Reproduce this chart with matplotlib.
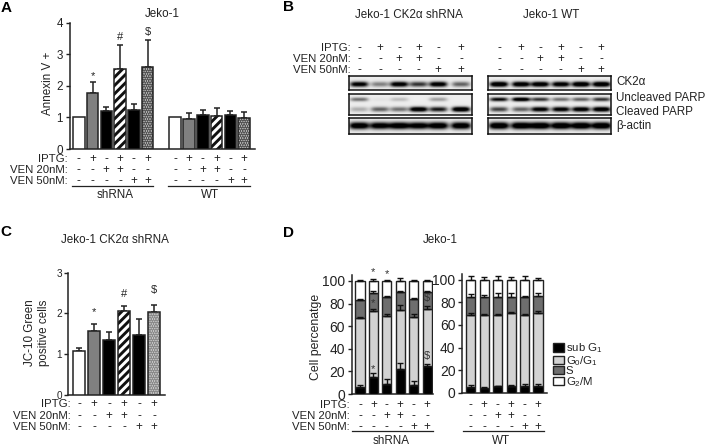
import numpy as np
import matplotlib
matplotlib.use("Agg")
import matplotlib.pyplot as plt
from matplotlib.transforms import blended_transform_factory as blend

plt.rcParams['font.family'] = ['Liberation Sans', 'DejaVu Sans']
plt.rcParams['mathtext.default'] = 'regular'
plt.rcParams['hatch.linewidth'] = 2.1
W, H = 708, 446
TXT = '#222222'

iptg = ['-', '+', '-', '+', '-', '+']
ven20 = ['-', '-', '+', '+', '-', '-']
ven50 = ['-', '-', '-', '-', '+', '+']
row_names = ['IPTG:', 'VEN 20nM:', 'VEN 50nM:']

a_sh = [1, 1.78, 1.2, 2.52, 1.22, 2.6]
a_sh_top = [1, 2.12, 1.32, 3.3, 1.42, 3.46]
a_wt = [1, 0.96, 1.07, 1.03, 1.08, 0.97]
a_wt_top = [1, 1.13, 1.24, 1.29, 1.19, 1.17]

c_val = [1.07, 1.57, 1.35, 2.05, 1.46, 2.04]
c_top = [1.14, 1.73, 1.54, 2.17, 1.86, 2.21]

d_sh_sub = [6.5, 15, 9, 22.5, 8, 24.5]
d_sh_g0 = [67, 73.5, 69, 74.5, 68, 75.5]
d_sh_s = [83, 89.5, 85.5, 90, 84.5, 90.5]
d_sh_g2 = [100, 100, 100, 100, 100, 100]
d_sh_err = [[1.5, 3.5, 4.5, 5, 3.5, 2], [1, 1.5, 2, 4, 2.5, 2],
            [1.5, 1.5, 1.5, 1, 0.5, 1], [0.8, 2, 0.8, 2.5, 0.6, 0.5]]
d_wt_sub = [5, 4.5, 5.5, 6, 6, 6]
d_wt_g0 = [68.5, 68.5, 68.5, 70.5, 68.5, 70.5]
d_wt_s = [85, 84.5, 85, 85, 84.5, 86]
d_wt_g2 = [100, 100, 100, 100, 100, 100]
d_wt_err = [[1.5, 0.5, 0.8, 1, 1.5, 1.5], [2, 1, 1.5, 1, 1.5, 2],
            [2, 2, 3, 3, 1.5, 2], [3.5, 2, 3.5, 2, 3.5, 1.5]]
phase_labels = ['sub G$_1$', 'G$_0$/G$_1$', 'S', 'G$_2$/M']
phase_colors = ['black', '#d2d2d2', '#6e6e6e', 'white']

blot_left = {
    'CK2': [.85, .35, .9, .6, .9, .45],
    'unc': [.4, .03, .15, 0, .25, 0],
    'cle': [.2, .45, .4, .95, .7, 1],
    'act': [.95, .9, .95, .9, .95, .95],
}
blot_right = {
    'CK2': [1, .95, .95, .9, 1, 1],
    'unc': [.75, .95, .6, .4, .45, .6],
    'cle': [.55, .45, .85, .85, .9, .95],
    'act': [1, 1, 1, 1, 1, 1],
}

fig = plt.figure(figsize=(W / 100, H / 100), dpi=100)
ov = fig.add_axes([0, 0, 1, 1], zorder=5)
ov.set_xlim(0, W); ov.set_ylim(H, 0); ov.axis('off'); ov.patch.set_alpha(0)


def T(x, y, s, size=8.4, ha='center', va='center', **kw):
    kw.setdefault('color', TXT)
    ov.text(x, y, s, fontsize=size, ha=ha, va=va, **kw)


def ax_px(l, t, r, b):
    return fig.add_axes([l / W, 1 - b / H, (r - l) / W, (b - t) / H])


def style(ax, ticks, size):
    for s in ('top', 'right'):
        ax.spines[s].set_visible(False)
    for s in ('left', 'bottom'):
        ax.spines[s].set_linewidth(1.1)
        ax.spines[s].set_color('#222222')
    ax.set_yticks(ticks)
    ax.set_xticks([])
    ax.tick_params(axis='y', length=3.2, width=1, pad=1.5, labelsize=size, colors=TXT)
    ax.patch.set_alpha(0)


def signs(ax, xs, ys, size=8.4):
    tr = blend(ax.transData, ov.transData)
    for col, y in zip([iptg, ven20, ven50], ys):
        for x, c in zip(xs, col):
            ov.text(x, y, c, transform=tr, fontsize=size, ha='center', va='center', color=TXT)


def simple_bars(ax, xs, vals, tops, dot_color='#555555', dot_face='#c4c4c4'):
    styles = [('white', None), ('#808080', None), ('black', None),
              ('white', '////'), ('black', None), (dot_face, '.......')]
    for x, v, t, (fc, h) in zip(xs, vals, tops, styles):
        hatch_col = dot_color if h == '.......' else '#111111'
        ax.bar(x, v, 0.84, color=fc, edgecolor=hatch_col, linewidth=0, hatch=h, zorder=3)
        ax.bar(x, v, 0.84, fill=False, edgecolor='#222222', linewidth=1.1, zorder=3.1)
        if t > v:
            ax.errorbar(x, v, yerr=[[0], [t - v]], color='#222222', capsize=2.4,
                        elinewidth=1.1, capthick=1.1, zorder=2)


# ---------- Panel A
axA = ax_px(69.5, 22.7, 255, 149)
axA.set_xlim(-0.67, 12.78); axA.set_ylim(0, 4)
style(axA, [0, 1, 2, 3, 4], 8.4)
xsA1 = np.arange(6); xsA2 = np.arange(6) + 7
simple_bars(axA, xsA1, a_sh, a_sh_top)
simple_bars(axA, xsA2, a_wt, a_wt_top)
signs(axA, xsA1, [159, 170, 181]); signs(axA, xsA2, [159, 170, 181])
for n, y in zip(row_names, [159, 170, 181]):
    T(68, y, n, ha='right', size=8.2)
ov.plot([71.7, 153], [185.7, 185.7], color='#222222', lw=0.9)
ov.plot([168, 250], [185.7, 185.7], color='#222222', lw=0.9)
T(115, 194.5, 'shRNA'); T(210, 194.5, 'WT')
T(48, 83, 'Annexin V +', rotation=90)
T(162, 14, 'Jeko-1')
for i, s, y in [(1, '*', 76), (3, '#', 37), (5, '$', 32)]:
    ov.text(i, y, s, transform=blend(axA.transData, ov.transData), fontsize=8,
            ha='center', va='center', color=TXT)
T(6.5, 8, 'A', size=11, weight='bold', color='black')

# ---------- Panel B
def blot(l, r, t, b, rows, centers, band_w):
    ax = ax_px(l, t, r, b)
    x = np.arange(l, r, 0.5); y = np.arange(t, b, 0.5)
    X, Y = np.meshgrid(x, y)
    img = np.full(X.shape, 0.0)
    for vals, yc, hh in rows:
        for v, c in zip(vals, centers):
            img += 1.35 * v * np.exp(-((X - c) / band_w) ** 4) * np.exp(-((Y - yc) / hh) ** 2)
    img = 0.93 - 0.93 * np.clip(img, 0, 1)
    ax.imshow(img, cmap='gray', vmin=0, vmax=1, aspect='auto', extent=(l, r, b, t),
              interpolation='bilinear')
    ax.set_xticks([]); ax.set_yticks([])
    for s in ax.spines.values():
        s.set_linewidth(1.1); s.set_color('#111111')


colL = [260 + v / 3 for v in (298, 360, 418, 476, 535, 603)]
colR = [260 + v / 3 for v in (717, 783, 840, 902, 962, 1023)]
for cols, d in ((colL, blot_left), (colR, blot_right)):
    l, r = (349.3, 472.3) if cols is colL else (488.3, 610.7)
    blot(l, r, 75.7, 90.3, [(d['CK2'], 84.7, 2.6)], cols, 9)
    blot(l, r, 94.3, 114.7, [(d['unc'], 99.3, 1.9), (d['cle'], 109, 2.4)], cols, 9)
    blot(l, r, 118.3, 133.7, [(d['act'], 125.5, 3.4)], cols, 10)
    for col, y in zip([iptg, ven20, ven50], [48.3, 59.3, 70]):
        for x, c in zip(cols, col):
            T(x, y, c)
for n, y in zip(row_names, [48.3, 59.3, 70]):
    T(350.7, y, n, ha='right', size=8.2)
T(409, 14.7, 'Jeko-1 CK2α shRNA')
T(551.3, 14.7, 'Jeko-1 WT')
for s, y in [('CK2α', 81.7), ('Uncleaved PARP', 97.7), ('Cleaved PARP', 111.7), ('β-actin', 125.7)]:
    T(616, y, s, ha='left')
T(288, 7, 'B', size=11, weight='bold', color='black')

# ---------- Panel C
axC = ax_px(68.3, 272.7, 165, 394.7)
axC.set_xlim(-0.71, 5.73); axC.set_ylim(0, 3)
style(axC, [0, 1, 2, 3], 7.2)
xsC = np.arange(6)
simple_bars(axC, xsC, c_val, c_top, dot_color='#8a8a8a', dot_face='#d0d0d0')
signs(axC, xsC, [404.3, 415.7, 427])
for n, y in zip(row_names, [404.3, 415.7, 427]):
    T(71, y, n, ha='right', size=8.2)
T(30, 333, 'JC-10 Green', rotation=90)
T(43.5, 333, 'positive cells', rotation=90)
T(115, 240, 'Jeko-1 CK2α shRNA')
for i, s, y in [(1, '*', 312), (3, '#', 294), (5, '$', 290.5)]:
    ov.text(i, y, s, transform=blend(axC.transData, ov.transData), fontsize=8,
            ha='center', va='center', color=TXT)
T(6, 232.5, 'C', size=11, weight='bold', color='black')


# ---------- Panel D
def stack(ax, xs, sub, g0, s, g2, err):
    tops = [sub, g0, s, g2]
    handles = []
    bottom = np.zeros(6)
    for k, (top, col) in enumerate(zip(tops, phase_colors)):
        top = np.array(top, float)
        h = ax.bar(xs, top - bottom, 0.68, bottom=bottom, color=col,
                   edgecolor='#222222', linewidth=1.0, zorder=3)
        ax.errorbar(xs, top, yerr=[np.zeros(6), err[k]], fmt='none', ecolor='#111111',
                    capsize=1.9, elinewidth=1.0, capthick=1.0, zorder=4)
        handles.append(h)
        bottom = top
    return handles


axD1 = ax_px(351.7, 275, 432.7, 394)
axD1.set_xlim(-0.62, 5.42); axD1.set_ylim(0, 105.3)
style(axD1, [0, 20, 40, 60, 80, 100], 10)
xsD = np.arange(6)
stack(axD1, xsD, d_sh_sub, d_sh_g0, d_sh_s, d_sh_g2, d_sh_err)
signs(axD1, xsD, [405, 415.7, 426.7])
for n, y in zip(row_names, [405, 415.7, 426.7]):
    T(350, y, n, ha='right', size=8.2)

axD2 = ax_px(462, 273.5, 546.7, 392.7)
axD2.set_xlim(-0.65, 5.65); axD2.set_ylim(0, 105.5)
style(axD2, [0, 20, 40, 60, 80, 100], 10)
hs = stack(axD2, xsD, d_wt_sub, d_wt_g0, d_wt_s, d_wt_g2, d_wt_err)
signs(axD2, xsD, [405, 415.7, 426.7])
ov.plot([352, 433], [431.3, 431.3], color='#222222', lw=0.9)
ov.plot([462.5, 544], [431.3, 431.3], color='#222222', lw=0.9)
T(391.5, 440.7, 'shRNA'); T(501.5, 440.7, 'WT')
T(315.7, 336.7, 'Cell percenatge', rotation=90, size=8.8)
T(440.7, 240, 'Jeko-1')
tr1 = blend(axD1.transData, ov.transData)
for i, s, y in [(1, '*', 272), (2, '*', 274), (1, '*', 303), (1, '*', 369),
                (5, '$', 298), (5, '$', 356)]:
    ov.text(i, y, s, transform=tr1, fontsize=8, ha='center', va='center', color='#333333')
fig.legend(hs, phase_labels, loc='upper left', bbox_to_anchor=(552.5 / W, 1 - 341.5 / H),
           frameon=False, fontsize=8.2, handlelength=1.02, handleheight=0.72, handletextpad=0.15,
           labelspacing=-0.12, borderpad=0, borderaxespad=0, labelcolor=TXT)
T(288, 233, 'D', size=11, weight='bold', color='black')

fig.savefig('out.png', dpi=100)
